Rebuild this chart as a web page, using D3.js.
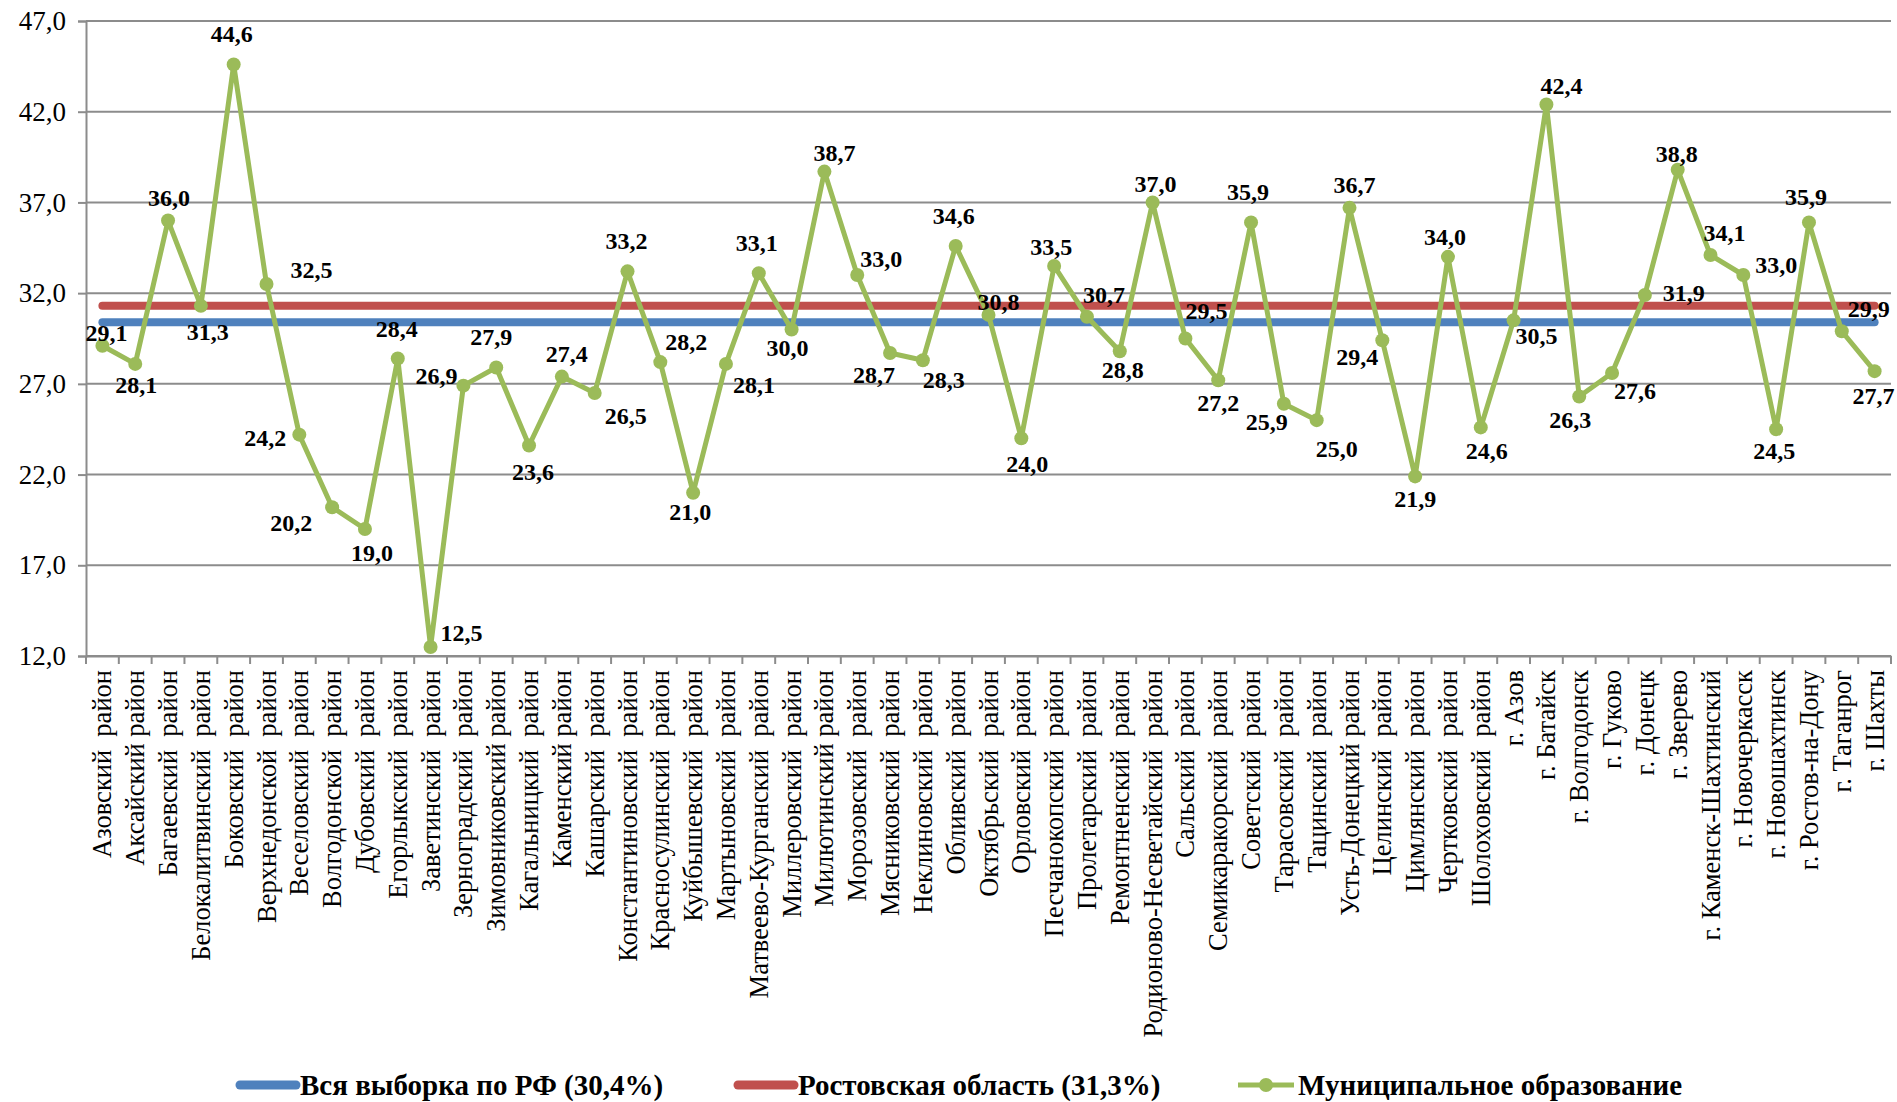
<!DOCTYPE html>
<html>
<head>
<meta charset="utf-8">
<script src="https://cdn.jsdelivr.net/npm/d3@7"></script>
<style>
  html, body { margin: 0; padding: 0; background: #fff; }
  svg { display: block; }
  text { font-family: "Liberation Serif", "Times New Roman", serif; }
</style>
</head>
<body>
<svg id="chart" width="1897" height="1102"></svg>
<script>
// ---------- DATA ----------
const categories = [
  "Азовский  район", "Аксайский район", "Багаевский  район", "Белокалитвинский  район",
  "Боковский  район", "Верхнедонской  район", "Веселовский  район", "Волгодонской  район",
  "Дубовский  район", "Егорлыкский  район", "Заветинский  район", "Зерноградский  район",
  "Зимовниковский район", "Кагальницкий  район", "Каменский район", "Кашарский  район",
  "Константиновский  район", "Красносулинский  район", "Куйбышевский  район", "Мартыновский  район",
  "Матвеево-Курганский  район", "Миллеровский  район", "Милютинский район", "Морозовский  район",
  "Мясниковский  район", "Неклиновский  район", "Обливский  район", "Октябрьский  район",
  "Орловский  район", "Песчанокопский  район", "Пролетарский  район", "Ремонтненский  район",
  "Родионово-Несветайский  район", "Сальский  район", "Семикаракорский  район", "Советский  район",
  "Тарасовский  район", "Тацинский  район", "Усть-Донецкий район", "Целинский  район",
  "Цимлянский  район", "Чертковский  район", "Шолоховский  район", "г. Азов",
  "г. Батайск", "г. Волгодонск", "г. Гуково", "г. Донецк",
  "г. Зверево", "г. Каменск-Шахтинский", "г. Новочеркасск", "г. Новошахтинск",
  "г. Ростов-на-Дону", "г. Таганрог", "г. Шахты"
];
const municipalValues = [
  29.1, 28.1, 36.0, 31.3, 44.6, 32.5, 24.2, 20.2, 19.0, 28.4,
  12.5, 26.9, 27.9, 23.6, 27.4, 26.5, 33.2, 28.2, 21.0, 28.1,
  33.1, 30.0, 38.7, 33.0, 28.7, 28.3, 34.6, 30.8, 24.0, 33.5,
  30.7, 28.8, 37.0, 29.5, 27.2, 35.9, 25.9, 25.0, 36.7, 29.4,
  21.9, 34.0, 24.6, 30.5, 42.4, 26.3, 27.6, 31.9, 38.8, 34.1,
  33.0, 24.5, 35.9, 29.9, 27.7
];
const rfValue = 30.4;
const rostovValue = 31.3;
const yTickValues = [12, 17, 22, 27, 32, 37, 42, 47];
const legendLabels = ["Вся выборка по РФ (30,4%)", "Ростовская область (31,3%)", "Муниципальное образование"];

// label placement (offset of label centre from its point), layout only
const labelDx = [4, 1, 1, 7, -2, 45, -34, -41, 7, -1, 31, -27, -5, 4, 5, 31, -1, 26, -3, 28,
  -2, -4, 10, 24, -16, 21, -2, 10, 6, -3, 17, 3, 3, 21, 0, -3, -17, 20, 5, -25,
  0, -3, 6, 23, 15, -9, 23, 39, -1, 14, 33, -2, -3, 27, -1];
const labelDy = [-13, 21, -23, 26, -31, -14, 3, 15, 24, -30, -14, -10, -31, 26, -23, 23, -31, -20, 19, 21,
  -31, 18, -19, -16, 22, 19, -30, -13, 25, -19, -22, 18, -19, -28, 22, -31, 18, 28, -23, 16,
  22, -20, 23, 15, -19, 23, 18, -2, -16, -22, -10, 21, -26, -23, 24];

// ---------- LAYOUT ----------
const svg = d3.select("#chart");
const plot = { left: 86, right: 1891, top: 21, bottom: 656 };
const colors = { rf: "#4F81BD", rostov: "#C0504D", mun: "#9BBB59", grid: "#8C8C8C" };

const x = d3.scaleBand().domain(categories).range([plot.left, plot.right]);
const y = d3.scaleLinear().domain([12, 47]).range([plot.bottom, plot.top]);
const cx = d => x(d) + x.bandwidth() / 2;

// gridlines
svg.append("g").selectAll("line").data(yTickValues).join("line")
  .attr("x1", plot.left).attr("x2", plot.right)
  .attr("y1", d => y(d)).attr("y2", d => y(d))
  .attr("stroke", colors.grid).attr("stroke-width", 2);

// y axis
const yAxis = svg.append("g").attr("transform", `translate(${plot.left},0)`)
  .call(d3.axisLeft(y).tickValues(yTickValues).tickSize(8).tickPadding(12)
    .tickFormat(d => d3.format(".1f")(d).replace(".", ",")));
yAxis.attr("font-family", null);
yAxis.select(".domain").attr("stroke", colors.grid).attr("stroke-width", 2);
yAxis.selectAll(".tick line").attr("stroke", colors.grid).attr("stroke-width", 2);
yAxis.selectAll(".tick text").attr("font-size", 27).attr("fill", "#000")
  .attr("font-family", "Liberation Serif");

// x axis
const xAxis = svg.append("g").attr("transform", `translate(0,${plot.bottom})`)
  .call(d3.axisBottom(x).tickSize(0).tickFormat(""));
xAxis.select(".domain").attr("stroke", colors.grid).attr("stroke-width", 2);
// tick marks at category boundaries
svg.append("g").selectAll("line").data(categories.concat([null])).join("line")
  .attr("x1", (d, i) => i < categories.length ? x(d) : plot.right)
  .attr("x2", (d, i) => i < categories.length ? x(d) : plot.right)
  .attr("y1", plot.bottom).attr("y2", plot.bottom + 8)
  .attr("stroke", colors.grid).attr("stroke-width", 2);
// category labels
svg.append("g").selectAll("text").data(categories).join("text")
  .attr("transform", d => `translate(${cx(d) + 9},${plot.bottom + 14}) rotate(-90)`)
  .attr("text-anchor", "end")
  .attr("xml:space", "preserve")
  .style("white-space", "pre")
  .attr("font-size", 26.5)
  .attr("fill", "#000")
  .text(d => d);

// reference lines
const flat = v => d3.line().x(d => cx(d)).y(() => y(v))([categories[0], categories[categories.length - 1]]);
svg.append("path").attr("d", flat(rostovValue)).attr("fill", "none")
  .attr("stroke", colors.rostov).attr("stroke-width", 8).attr("stroke-linecap", "round");
svg.append("path").attr("d", flat(rfValue)).attr("fill", "none")
  .attr("stroke", colors.rf).attr("stroke-width", 8).attr("stroke-linecap", "round");

// municipal series
const line = d3.line().x((d, i) => cx(categories[i])).y(d => y(d));
svg.append("path").attr("d", line(municipalValues)).attr("fill", "none")
  .attr("stroke", colors.mun).attr("stroke-width", 5).attr("stroke-linejoin", "round");
svg.append("g").selectAll("circle").data(municipalValues).join("circle")
  .attr("cx", (d, i) => cx(categories[i])).attr("cy", d => y(d)).attr("r", 7)
  .attr("fill", colors.mun);

// data labels
svg.append("g").selectAll("text").data(municipalValues).join("text")
  .attr("x", (d, i) => cx(categories[i]) + labelDx[i])
  .attr("y", (d, i) => y(d) + labelDy[i])
  .attr("dy", "0.35em")
  .attr("text-anchor", "middle")
  .attr("font-size", 24).attr("font-weight", "bold").attr("fill", "#000")
  .text(d => d3.format(".1f")(d).replace(".", ","));

// legend
const legendY = 1085;
const legendItems = [
  { label: legendLabels[0], color: colors.rf, x0: 240, x1: 296, marker: false },
  { label: legendLabels[1], color: colors.rostov, x0: 738, x1: 794, marker: false },
  { label: legendLabels[2], color: colors.mun, x0: 1238, x1: 1294, marker: true }
];
const lg = svg.append("g").selectAll("g").data(legendItems).join("g");
lg.append("line").attr("x1", d => d.x0).attr("x2", d => d.x1)
  .attr("y1", legendY).attr("y2", legendY)
  .attr("stroke", d => d.color)
  .attr("stroke-width", d => d.marker ? 5 : 9)
  .attr("stroke-linecap", d => d.marker ? "butt" : "round");
lg.filter(d => d.marker).append("circle")
  .attr("cx", d => (d.x0 + d.x1) / 2).attr("cy", legendY).attr("r", 7).attr("fill", d => d.color);
lg.append("text").attr("x", d => d.x1 + 4).attr("y", legendY).attr("dy", "0.35em")
  .attr("font-size", 29).attr("font-weight", "bold").attr("fill", "#000")
  .text(d => d.label);
</script>
</body>
</html>
